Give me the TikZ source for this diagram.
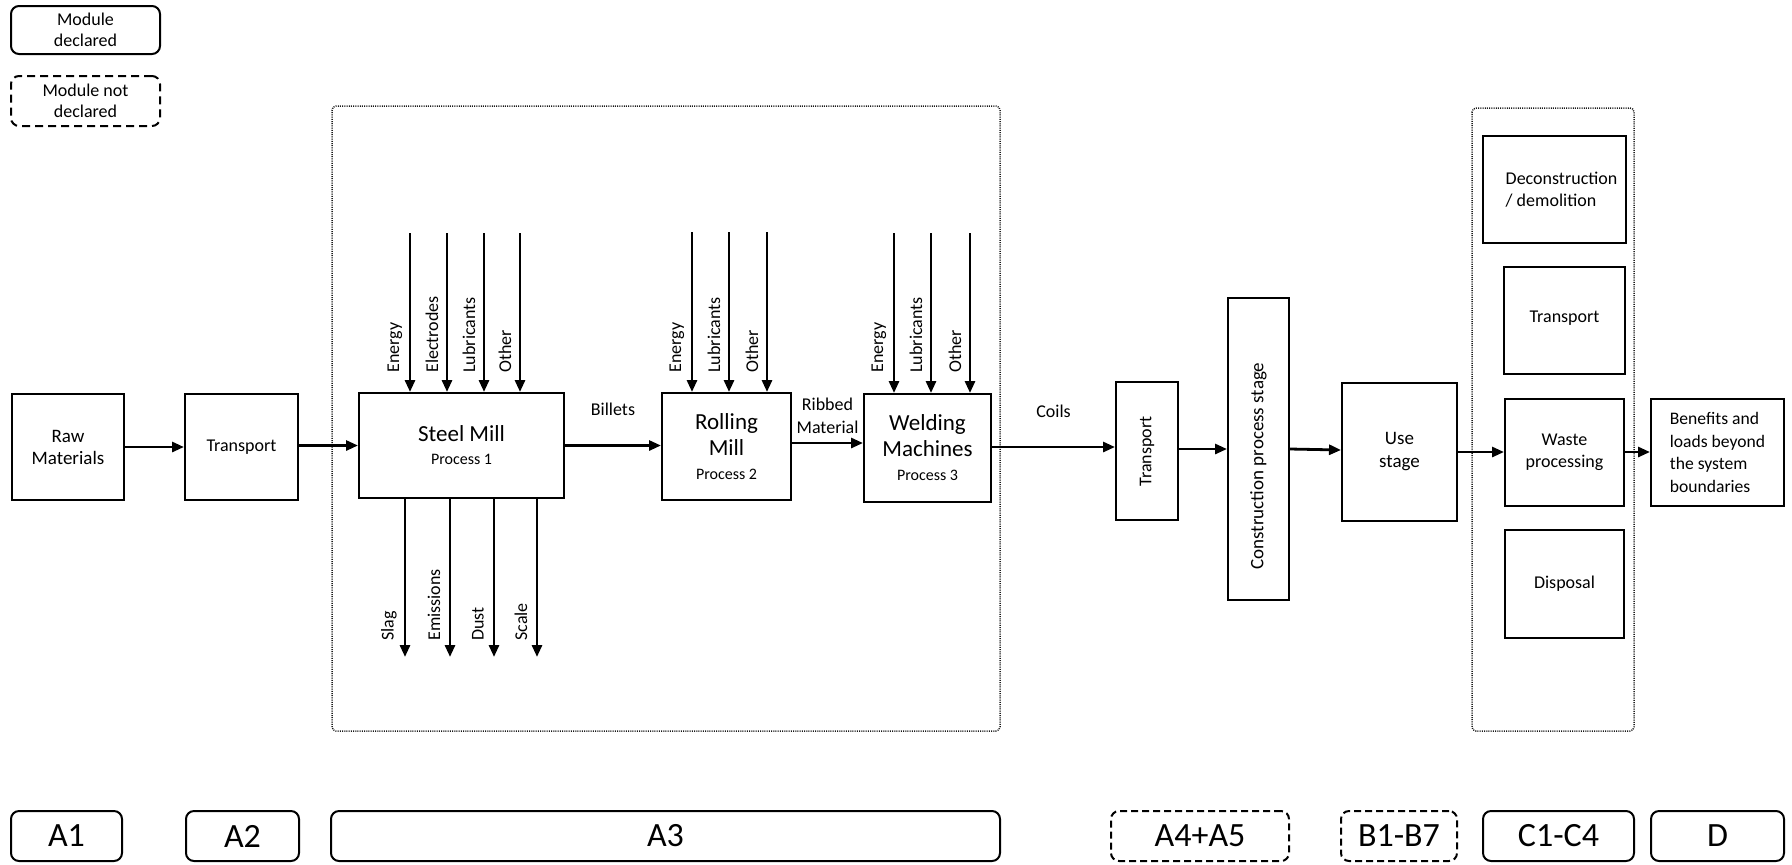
\documentclass[tikz,border=0pt]{standalone}
\usepackage{fontspec}
\setmainfont{Carlito}
\usetikzlibrary{arrows.meta}
\begin{document}
\begin{tikzpicture}[x=0.5pt,y=-0.5pt,
  box/.style={draw, line width=1pt, inner sep=0pt, align=center, font=\fontsize{9}{11}\selectfont},
  sz/.style 2 args={minimum width=#1*0.5pt, minimum height=#2*0.5pt},
  procbox/.style={box, font=\fontsize{11.5}{13}\selectfont},
  arr/.style={line width=1.4pt, -{Triangle[length=6pt,width=5pt]}},
  lab/.style={inner sep=0pt, font=\fontsize{9}{11}\selectfont},
  vlab/.style={lab, rotate=90, anchor=west},
  frame/.style={draw=black!90, line width=0.75pt, dash pattern=on 0.5pt off 0.6pt, rounded corners=2pt},
  modbox/.style={draw, line width=1pt, rounded corners=4pt, inner sep=0pt, align=center, font=\fontsize{9}{10.5}\selectfont},
  modnd/.style={modbox, dash pattern=on 4pt off 2.5pt},
  stagebox/.style={draw, line width=1pt, rounded corners=4pt, inner sep=0pt, font=\fontsize{17}{20}\selectfont, minimum height=25pt},
  stagend/.style={stagebox, dash pattern=on 3.5pt off 2pt},
]
\useasboundingbox (0,0) rectangle (1792,864);

% legend
\node[modbox, sz={149}{48}] (leg1) at (85.5,30) {Module\\declared};
\node[modnd, sz={149}{50}] (leg2) at (85.5,101) {Module not\\declared};

% frames
\draw[frame] (332,106) rectangle (1000,731);
\draw[frame] (1472,108) rectangle (1634,731);

% main boxes
\node[box, sz={112}{106}, font=\fontsize{9.5}{11}\selectfont] (raw) at (68,447) {Raw\\Materials};
\node[box, sz={113}{106}] (tr2) at (241.5,447) {Transport};
\node[procbox, sz={205}{105}] (steel) at (461.5,445.5) {Steel Mill\\[-1.5pt]{\fontsize{8}{9}\selectfont Process 1}};
\node[procbox, sz={129}{107}] (roll) at (726.5,446.5) {Rolling\\Mill\\[-1pt]{\fontsize{8}{9}\selectfont Process 2}};
\node[procbox, sz={127}{108}] (weld) at (927.5,448) {Welding\\Machines\\[-1pt]{\fontsize{8}{9}\selectfont Process 3}};
\node[box, sz={62}{138}] (tr4) at (1147,451) {};
\node[lab, rotate=90] (tr4lab) at (1147,451.5) {Transport};
\node[box, sz={61}{302}] (cons) at (1258.5,449) {};
\node[lab, rotate=90, font=\fontsize{9.5}{11}\selectfont] (conslab) at (1258.5,466) {Construction process stage};
\node[box, sz={115}{138}, font=\fontsize{9.5}{11.5}\selectfont] (use) at (1399.5,452) {Use\\stage};
\node[box, sz={143}{107}, align=left] (decon) at (1554.5,189.5) {\hspace*{7pt}Deconstruction\\\hspace*{7pt}/ demolition};
\node[box, sz={121}{107}] (trc) at (1564.5,320.5) {\raisebox{4pt}{Transport}};
\node[box, sz={119}{107}] (waste) at (1564.5,452.5) {Waste\\processing};
\node[box, sz={119}{108}] (disp) at (1564.5,584) {Disposal};
\node[box, sz={133}{107}, align=left, font=\fontsize{8.8}{11.25}\selectfont] (ben) at (1717.5,452.5) {Benefits and\\loads beyond\\the system\\boundaries};

% main flow
\draw[arr] (raw.east) -- (tr2.west |- raw.east);
\draw[arr] (tr2.east |- steel.west) -- (steel.west);
\draw[arr] (steel.east) -- (roll.west |- steel.east) node[lab, midway, above=14pt] (billets) {Billets};
\draw[arr] (roll.east |- 0,443) -- (weld.west |- 0,443) node[lab, midway, above=4pt, align=center, font=\fontsize{9}{11.5}\selectfont] (ribbed) {Ribbed\\Material};
\draw[arr] (weld.east |- 0,447) -- (tr4.west |- 0,447) node[lab, midway, above=14pt] (coils) {Coils};
\draw[arr] (tr4.east |- 0,449) -- (cons.west |- 0,449);
\draw[arr] (cons.east |- 0,449) -- (use.west |- 0,450);
\draw[arr] (use.east |- 0,452) -- (waste.west |- 0,452);
\draw[arr] (waste.east |- 0,452) -- (ben.west |- 0,452);

% inputs Steel Mill
\foreach \x/\t [count=\i] in {410/Energy,447/Electrodes,484/Lubricants,520/Other}{
  \coordinate (sin\i) at (\x,233);
  \draw[arr] (sin\i) -- (sin\i |- steel.north);
  \node[vlab] (sinl\i) at (\x-15,373) {\t};
}
% inputs Rolling Mill
\foreach \x/\t [count=\i] in {692/Energy,729/Lubricants,767/Other}{
  \coordinate (rin\i) at (\x,232);
  \draw[arr] (rin\i) -- (rin\i |- roll.north);
  \node[vlab] (rinl\i) at (\x-15,373) {\t};
}
% inputs Welding
\foreach \x/\t [count=\i] in {894/Energy,931/Lubricants,970/Other}{
  \coordinate (win\i) at (\x,233);
  \draw[arr] (win\i) -- (win\i |- weld.north);
  \node[vlab] (winl\i) at (\x-15,373) {\t};
}
% outputs Steel Mill
\foreach \x/\t [count=\i] in {405/Slag,450/Emissions,494/Dust,537/Scale}{
  \coordinate (sout\i) at (\x,657);
  \draw[arr] (sout\i |- steel.south) -- (sout\i);
  \node[vlab] (soutl\i) at (\x-16,641) {\t};
}

% stage labels
\node[stagebox, sz={111}{50}] (sA1) at (66.5,836) {A1};
\node[stagebox, sz={113}{50}] (sA2) at (242.5,836) {A2};
\node[stagebox, sz={669}{50}] (sA3) at (665.5,836) {A3};
\node[stagend, sz={178}{50}] (sA45) at (1200,836) {A4+A5};
\node[stagend, sz={116}{50}] (sB) at (1399,836) {B1-B7};
\node[stagebox, sz={151}{50}] (sC) at (1558.5,836) {C1-C4};
\node[stagebox, sz={133}{50}] (sD) at (1717.5,836) {D};
\end{tikzpicture}
\end{document}
